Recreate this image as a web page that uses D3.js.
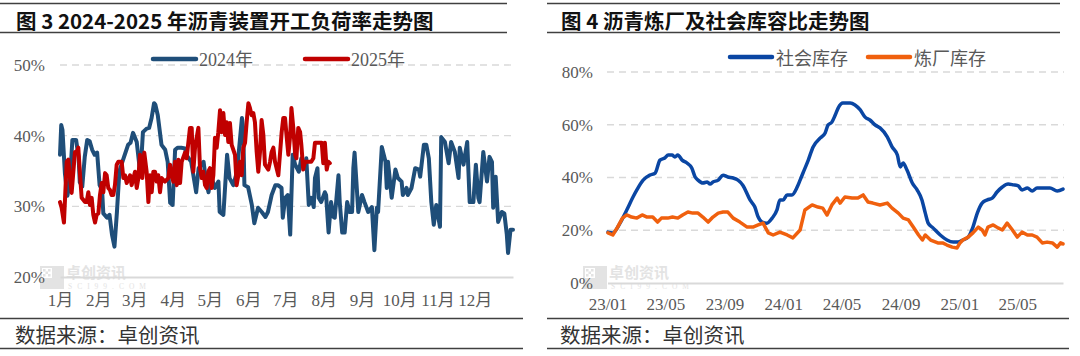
<!DOCTYPE html>
<html><head><meta charset="utf-8">
<script src="https://cdn.jsdelivr.net/npm/d3@7"></script>
<style>
html,body{margin:0;padding:0;background:#fff;}
svg{display:block;}
</style></head><body>
<svg id="c" width="1080" height="356"></svg>
<script>
// ---------- data: left chart (开工负荷率, %) ----------
const leftTitle = "图 3 2024-2025 年沥青装置开工负荷率走势图";
const rightTitle = "图 4 沥青炼厂及社会库容比走势图";
const sourceText = "数据来源：卓创资讯";
const seriesNamesLeft = ["2024年", "2025年"];
const seriesNamesRight = ["社会库存", "炼厂库存"];
const monthLabels = ["1月","2月","3月","4月","5月","6月","7月","8月","9月","10月","11月","12月"];
const monthStartDays = [0,31,60,91,121,152,182,213,244,274,305,335];
const leftTicks = [20,30,40,50];

const days2024 = [0,1,2,4,6,8,10,13,15,16,
18,20,22,24,26,28,30,32,34,35,
38,40,42,44,46,48,51,55,57,59,
62,65,67,70,72,74,76,77,79,82,
85,87,89,91,93,95,98,101,102,106,
110,112,116,118,120,122,125,128,129,132,
135,137,140,143,147,148,149,152,155,157,
160,163,166,168,171,174,176,179,180,182,
184,186,187,188,190,193,195,198,199,201,
203,205,206,208,209,211,214,215,217,219,
221,222,225,226,228,230,232,234,236,237,
238,241,244,246,249,252,254,256,257,260,
263,264,265,268,271,273,276,277,280,281,
284,287,290,291,294,296,298,300,302,304,
307,308,311,314,316,319,322,323,326,329,
330,331,334,336,338,339,342,345,347,349,
350,352,354,357,359,361,362,364,366];
const rate2024 = [37.3,41.5,40.8,34.6,31.5,33.5,39.4,39.4,37.0,33.4,
32.8,37.0,39.4,39.2,38.0,37.3,37.6,33.0,32.3,29.0,
28.4,28.8,26.0,24.3,29.2,35.0,36.6,38.7,39.0,40.4,
39.1,34.4,40.5,41.0,41.1,42.5,44.6,44.4,42.9,38.7,
38.0,36.3,30.5,30.2,38.0,38.3,38.3,38.2,37.3,36.3,
32.0,35.4,36.3,33.5,32.0,34.4,32.6,33.5,29.2,28.8,
37.3,34.0,33.0,34.9,42.5,41.0,33.0,32.7,30.2,27.6,
29.8,29.2,28.5,29.2,31.6,33.0,33.0,32.6,28.4,31.2,
31.6,26.0,31.6,37.3,35.9,34.9,36.8,35.4,36.8,30.2,
31.2,29.9,34.0,35.4,31.2,30.6,32.0,31.6,26.3,30.6,
28.5,28.4,34.4,30.6,26.3,26.3,30.6,29.2,29.2,35.4,
37.6,29.2,31.6,30.6,29.2,29.9,23.8,29.8,29.2,38.4,
36.3,32.6,36.3,31.2,35.2,34.0,33.5,31.6,32.6,31.6,
32.6,35.4,35.2,34.2,38.7,38.7,36.8,30.6,27.4,30.2,
27.1,39.8,39.1,36.1,39.1,37.7,34.0,38.3,35.9,39.1,
34.9,30.6,30.6,35.9,31.2,30.6,37.7,33.5,37.0,36.3,
29.8,34.2,27.8,29.2,29.0,26.0,23.4,26.7,26.7];

const days2025 = [0,1.3,3.2,5.4,6.7,8.1,9.4,10.8,12.1,13.5,
14.8,16.2,17.5,20.2,21.5,22.9,24.2,25.6,26.9,28.3,
29.6,31,32.3,33.7,35,36.4,37.7,39,40.4,41.7,
43.1,44.4,45.8,47.1,49.8,51.2,52.5,53.9,56.6,57.9,
60.6,62,63.3,64.6,66.5,68.1,70,71.4,72.7,74.1,
75.4,76.8,78.1,79.4,80.8,82.1,84.8,87.5,88.9,90.2,
91.6,92.9,94.3,95.6,97,98.3,101,102.3,105,106.4,
107.7,109.1,110.4,111.8,113.1,114.5,115.8,117.2,118.5,119.8,
121.2,122.5,123.9,125.2,126.6,127.9,129.3,130.6,132,133.3,
134.6,136,137.3,138.7,141.4,142.7,144.1,145.4,146.8,148.1,
149.5,150.8,152.2,153.5,154.8,156.2,157.5,158.9,160.2,161.6,
162.9,164.3,165.6,168.3,169.7,171,172.4,173.7,175,176.4,
179.1,180.4,181.8,183,184.5,186,187,188.5,190,191,
192.5,194,195,196.5,198,200.6,203,204.7,206,208.7,
211.5,212.7,214,215.5,216.8,218];
const rate2025 = [30.6,29.8,27.7,36.3,36.6,34.0,31.9,34.9,37.7,37.7,
38.3,34.4,31.2,30.6,30.6,32.0,30.2,31.2,28.8,27.7,
28.8,29.0,31.6,33.3,32.0,34.7,34.4,32.6,32.3,31.6,
31.6,33.0,35.9,36.3,36.3,34.0,34.4,33.3,34.4,33.0,
34.9,32.6,34.0,37.3,34.0,37.6,34.9,30.6,34.4,32.0,
34.9,34.9,33.5,34.4,32.0,34.0,33.5,34.0,35.9,34.4,
33.5,36.3,33.0,36.6,33.3,36.3,37.6,36.8,41.1,41.1,
34.9,38.3,39.7,41.1,35.4,34.0,34.9,33.0,32.6,34.9,
35.4,32.6,34.4,39.7,38.3,40.5,43.6,40.5,43.2,40.1,
41.9,39.1,41.8,38.7,37.3,33.0,34.4,36.3,34.4,38.3,
39.0,41.9,44.6,43.9,42.9,43.2,41.9,37.7,34.9,37.7,
42.2,40.1,35.9,35.2,36.3,37.7,38.3,36.3,35.4,34.4,
40.5,42.5,42.5,40.1,37.3,40.1,43.9,41.1,37.3,36.8,
41.1,40.5,38.7,35.2,36.3,36.3,36.3,36.8,39.0,39.0,
39.0,36.1,39.0,35.2,36.3,36.1];

// ---------- data: right chart (库容比, %) ----------
const rightTicks = [0,20,40,60,80];
const rightTickDates = ["2023-01-01","2023-05-01","2023-09-01","2024-01-01","2024-05-01","2024-09-01","2025-01-01","2025-05-01"];
const socDates = ["2023-01-02","2023-01-12","2023-01-27","2023-02-10","2023-02-23","2023-03-03","2023-03-16","2023-03-30","2023-04-10","2023-04-20",
"2023-04-30","2023-05-07","2023-05-15","2023-05-21","2023-05-27","2023-06-05","2023-06-15","2023-06-25","2023-07-02","2023-07-08",
"2023-07-18","2023-07-27","2023-08-02","2023-08-08","2023-08-19","2023-08-29","2023-09-08","2023-09-19","2023-09-29","2023-10-09",
"2023-10-24","2023-11-03","2023-11-10","2023-11-18","2023-11-28","2023-12-09","2023-12-19","2023-12-25","2024-01-01","2024-01-09",
"2024-01-19","2024-01-30","2024-02-05","2024-02-11","2024-02-22","2024-03-03","2024-03-18","2024-03-28","2024-04-03","2024-04-11",
"2024-04-18","2024-04-24","2024-05-04","2024-05-19","2024-05-29","2024-06-09","2024-06-19","2024-06-29","2024-07-10","2024-07-20",
"2024-08-04","2024-08-14","2024-08-25","2024-08-31","2024-09-06","2024-09-14","2024-09-25","2024-10-05","2024-10-15","2024-10-22",
"2024-10-28","2024-11-07","2024-11-22","2024-12-06","2024-12-19","2024-12-29","2025-01-08","2025-01-19","2025-01-29","2025-02-07",
"2025-02-17","2025-02-28","2025-03-10","2025-03-20","2025-03-31","2025-04-12","2025-04-23","2025-05-03","2025-05-11","2025-05-22",
"2025-06-01","2025-06-11","2025-06-24","2025-07-08","2025-07-23","2025-08-04"];
const socVals = [19.3,19.0,22.7,27.7,32.6,35.3,39.0,40.9,41.7,46.6,
47.4,48.5,48.5,47.8,48.5,46.6,45.5,43.6,40.2,39.0,
37.9,38.3,37.5,38.3,39.0,40.9,40.2,39.8,39.0,37.1,
31.5,28.8,25.0,23.1,22.7,24.6,27.7,31.5,31.5,33.4,
33.4,36.4,39.0,41.7,46.6,51.6,55.0,56.9,59.9,61.0,
63.7,66.3,68.2,68.2,67.5,65.6,62.9,61.8,59.9,58.8,
55.4,51.6,48.5,44.0,45.5,42.8,37.9,35.3,31.5,26.5,
22.7,20.9,18.2,16.3,15.5,15.5,16.3,17.4,21.2,26.5,
30.3,31.5,32.2,34.5,36.4,37.5,37.2,36.8,35.3,36.0,
34.9,36.0,36.0,36.0,34.9,35.6];
const refDates = ["2023-01-02","2023-01-12","2023-01-22","2023-02-01","2023-02-10","2023-02-20","2023-03-03","2023-03-14","2023-03-24","2023-04-05",
"2023-04-15","2023-04-23","2023-05-06","2023-05-16","2023-05-27","2023-06-06","2023-06-17","2023-06-27","2023-07-08","2023-07-18",
"2023-07-29","2023-08-08","2023-08-19","2023-08-29","2023-09-08","2023-09-19","2023-10-03","2023-10-18","2023-10-30","2023-11-10",
"2023-11-20","2023-12-01","2023-12-11","2023-12-25","2024-01-09","2024-01-21","2024-02-05","2024-02-15","2024-03-01","2024-03-13",
"2024-03-23","2024-04-01","2024-04-11","2024-04-22","2024-04-28","2024-05-08","2024-05-23","2024-06-04","2024-06-15","2024-06-25",
"2024-07-05","2024-07-20","2024-08-04","2024-08-14","2024-08-27","2024-09-06","2024-09-17","2024-09-27","2024-10-08","2024-10-16",
"2024-10-22","2024-11-02","2024-11-17","2024-11-27","2024-12-06","2024-12-17","2024-12-27","2025-01-02","2025-01-08","2025-01-19",
"2025-01-29","2025-02-09","2025-02-17","2025-02-23","2025-03-01","2025-03-12","2025-03-22","2025-03-31","2025-04-10","2025-04-21",
"2025-05-01","2025-05-11","2025-05-22","2025-06-01","2025-06-11","2025-06-22","2025-07-02","2025-07-13","2025-07-23","2025-07-30",
"2025-08-04"];
const refVals = [19.0,18.2,21.2,24.6,25.8,25.0,24.6,25.8,25.0,25.0,
23.1,24.6,24.6,25.0,24.6,25.8,26.9,26.5,26.5,25.0,
23.1,25.0,26.5,26.9,26.9,24.6,23.1,21.2,21.2,22.0,
22.7,19.0,18.2,19.3,18.2,17.1,20.1,27.7,29.6,28.8,
28.4,25.8,29.6,32.2,30.3,32.6,32.2,32.2,33.4,30.7,
30.3,29.6,30.3,28.4,26.5,24.6,23.9,21.2,18.2,16.3,
18.2,16.3,15.2,15.2,14.4,13.6,13.3,15.2,16.3,17.4,
19.0,21.2,20.1,18.2,21.2,22.0,20.9,20.1,22.7,20.1,
17.4,19.3,18.2,18.2,17.4,15.2,15.5,15.2,13.6,15.2,
14.8];

// ---------- drawing ----------
const svg = d3.select("#c");
const FONT_NUM = "'Liberation Serif','Noto Sans CJK SC',serif";
const FONT_CJK = "'Noto Sans CJK SC','Liberation Serif',serif";
const TICK_COLOR = "#595959";
const GRID_COLOR = "#d9d9d9";
const RULE_COLOR = "#404040";

function frame(x0, x1top, x1bot) {
  [[3.5, x1top], [32.5, x1top], [318.5, x1bot], [348.5, x1bot]].forEach(r => {
    svg.append("line").attr("x1", x0).attr("x2", r[1]).attr("y1", r[0]).attr("y2", r[0])
      .attr("stroke", RULE_COLOR).attr("stroke-width", 1.5);
  });
}

function watermark(x, y) {
  const g = svg.append("g").attr("transform", `translate(${x},${y})`).attr("opacity", 0.5);
  g.append("rect").attr("x", 0).attr("y", 0).attr("width", 24).attr("height", 23).attr("fill", "#c8c8c8");
  g.append("rect").attr("x", 2).attr("y", 2).attr("width", 10).attr("height", 10).attr("fill", "#fff");
  [[3,3],[8,3],[5.5,5.5],[3,8],[8,8]].forEach(p => g.append("rect").attr("x", p[0]).attr("y", p[1]).attr("width", 2.5).attr("height", 2.5).attr("fill", "#c8c8c8"));
  g.append("text").attr("x", 26).attr("y", 12).attr("font-family", FONT_CJK).attr("font-weight", "bold")
    .attr("font-size", 15).attr("fill", "#c8c8c8").text("卓创资讯");
  g.append("text").attr("x", 28).attr("y", 23).attr("font-family", FONT_NUM)
    .attr("font-size", 7.5).attr("fill", "#c8c8c8").attr("textLength", 78).text("SCI99.COM");
}

function titleText(x, t) {
  svg.append("text").attr("x", x).attr("y", 20).attr("dominant-baseline", "central")
    .attr("font-family", FONT_CJK).attr("font-weight", "bold").attr("font-size", 20.5)
    .attr("fill", "#111").attr("xml:space", "preserve").text(t);
}
function sourceLabel(x) {
  svg.append("text").attr("x", x).attr("y", 333.5).attr("dominant-baseline", "central")
    .attr("font-family", FONT_CJK).attr("font-size", 20.5).attr("fill", "#333").text(sourceText);
}
function styleAxis(g) {
  g.selectAll("text").attr("font-family", FONT_NUM).attr("font-size", 17).attr("fill", TICK_COLOR);
}

// ---- Left panel ----
frame(0, 507, 523);
titleText(16, leftTitle);
sourceLabel(15);
watermark(40, 266);

const xL = d3.scaleLinear().domain([0, 366]).range([60, 513]);
const yL = d3.scaleLinear().domain([20, 50]).range([277, 65]);

svg.append("g").selectAll("line").data(leftTicks.filter(d => d > 20)).join("line")
  .attr("x1", 60).attr("x2", 513).attr("y1", d => yL(d)).attr("y2", d => yL(d))
  .attr("stroke", GRID_COLOR).attr("stroke-width", 1.3).attr("stroke-dasharray", "7,5");

const yAxL = svg.append("g").attr("transform", "translate(60,0)")
  .call(d3.axisLeft(yL).tickValues(leftTicks).tickFormat(d => d + "%").tickSize(0).tickPadding(15));
yAxL.select(".domain").remove();
styleAxis(yAxL);

const xAxL = svg.append("g").attr("transform", `translate(0,${yL(20)})`)
  .call(d3.axisBottom(xL).tickValues(monthStartDays).tickFormat((d, i) => monthLabels[i]).tickSize(0).tickPadding(17));
xAxL.select(".domain").attr("stroke", GRID_COLOR).attr("stroke-width", 1.8);
styleAxis(xAxL);

const lineL = d3.line().x(d => xL(d[0])).y(d => yL(d[1]));
svg.append("path").datum(days2024.map((d, i) => [d, rate2024[i]])).attr("d", lineL)
  .attr("fill", "none").attr("stroke", "#1F4E79").attr("stroke-width", 4).attr("stroke-linejoin", "round").attr("stroke-linecap", "round");
svg.append("path").datum(days2025.map((d, i) => [d, rate2025[i]])).attr("d", lineL)
  .attr("fill", "none").attr("stroke", "#C00000").attr("stroke-width", 4).attr("stroke-linejoin", "round").attr("stroke-linecap", "round");

// legend left
const legL = [{name: seriesNamesLeft[0], color: "#1F4E79", x: 153}, {name: seriesNamesLeft[1], color: "#C00000", x: 305}];
legL.forEach(l => {
  svg.append("line").attr("x1", l.x).attr("x2", l.x + 43).attr("y1", 59).attr("y2", 59)
    .attr("stroke", l.color).attr("stroke-width", 4.5).attr("stroke-linecap", "round");
  svg.append("text").attr("x", l.x + 46).attr("y", 60).attr("dominant-baseline", "central")
    .attr("font-family", FONT_NUM).attr("font-size", 18).attr("fill", TICK_COLOR).text(l.name);
});

// ---- Right panel ----
frame(547, 1060, 1069);
titleText(561, rightTitle);
sourceLabel(560);
watermark(583, 266);

const parse = d3.timeParse("%Y-%m-%d");
const xR = d3.scaleTime().domain([parse("2023-01-01"), parse("2025-08-04")]).range([607.5, 1063]);
const yR = d3.scaleLinear().domain([0, 80]).range([283, 72]);

svg.append("g").selectAll("line").data(rightTicks.filter(d => d > 0)).join("line")
  .attr("x1", 607).attr("x2", 1064).attr("y1", d => yR(d)).attr("y2", d => yR(d))
  .attr("stroke", GRID_COLOR).attr("stroke-width", 1.3).attr("stroke-dasharray", "7,5");

const yAxR = svg.append("g").attr("transform", "translate(607,0)")
  .call(d3.axisLeft(yR).tickValues(rightTicks).tickFormat(d => d + "%").tickSize(0).tickPadding(14));
yAxR.select(".domain").remove();
styleAxis(yAxR);

const xAxR = svg.append("g").attr("transform", `translate(0,${yR(0)})`)
  .call(d3.axisBottom(xR).tickValues(rightTickDates.map(parse)).tickFormat(d3.timeFormat("%y/%m")).tickSize(0).tickPadding(15));
xAxR.select(".domain").attr("stroke", GRID_COLOR).attr("stroke-width", 1.8);
styleAxis(xAxR);

const lineR = d3.line().x(d => xR(d[0])).y(d => yR(d[1]));
svg.append("path").datum(socDates.map((d, i) => [parse(d), socVals[i]])).attr("d", lineR.curve(d3.curveMonotoneX))
  .attr("fill", "none").attr("stroke", "#0A46A3").attr("stroke-width", 3.5).attr("stroke-linejoin", "round").attr("stroke-linecap", "round");
svg.append("path").datum(refDates.map((d, i) => [parse(d), refVals[i]])).attr("d", lineR.curve(d3.curveLinear))
  .attr("fill", "none").attr("stroke", "#F0600E").attr("stroke-width", 3.5).attr("stroke-linejoin", "round").attr("stroke-linecap", "round");

const legR = [{name: seriesNamesRight[0], color: "#0A46A3", x: 730}, {name: seriesNamesRight[1], color: "#F0600E", x: 868}];
legR.forEach(l => {
  svg.append("line").attr("x1", l.x).attr("x2", l.x + 42).attr("y1", 57).attr("y2", 57)
    .attr("stroke", l.color).attr("stroke-width", 4.5).attr("stroke-linecap", "round");
  svg.append("text").attr("x", l.x + 46).attr("y", 57).attr("dominant-baseline", "central")
    .attr("font-family", FONT_CJK).attr("font-size", 18).attr("fill", TICK_COLOR).text(l.name);
});
</script>
</body></html>
